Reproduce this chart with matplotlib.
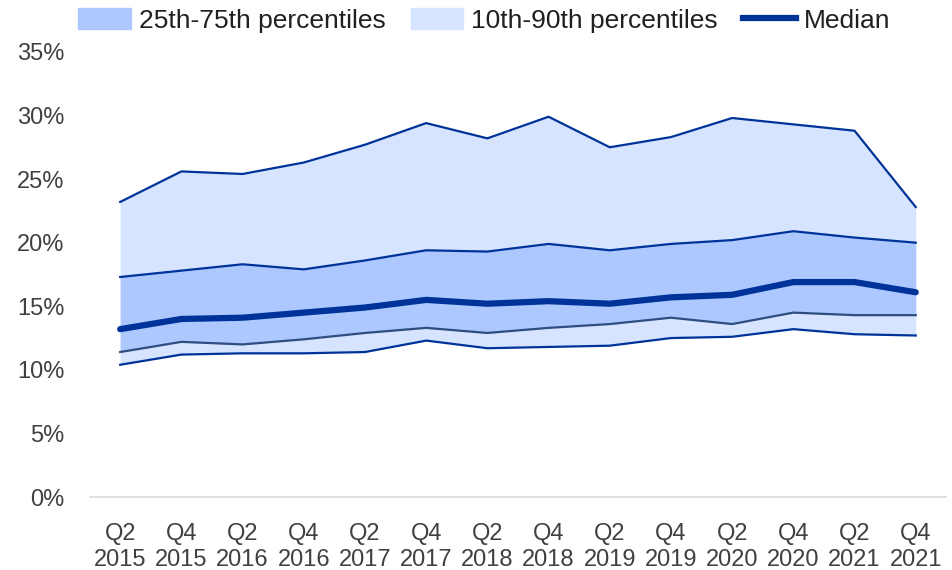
# Percentile bands chart (10-90, 25-75) with median line

import numpy as np
import matplotlib.pyplot as plt
from matplotlib.patches import Patch
from matplotlib.lines import Line2D
from matplotlib.ticker import FuncFormatter

periods = ['Q2\n2015', 'Q4\n2015', 'Q2\n2016', 'Q4\n2016', 'Q2\n2017', 'Q4\n2017', 'Q2\n2018',
           'Q4\n2018', 'Q2\n2019', 'Q4\n2019', 'Q2\n2020', 'Q4\n2020', 'Q2\n2021', 'Q4\n2021']

p90 = [23.2, 25.6, 25.4, 26.3, 27.7, 29.4, 28.2, 29.9, 27.5, 28.3, 29.8, 29.3, 28.8, 22.8]
p75 = [17.3, 17.8, 18.3, 17.9, 18.6, 19.4, 19.3, 19.9, 19.4, 19.9, 20.2, 20.9, 20.4, 20.0]
mediana = [13.2, 14.0, 14.1, 14.5, 14.9, 15.5, 15.2, 15.4, 15.2, 15.7, 15.9, 16.9, 16.9, 16.1]
p25 = [11.4, 12.2, 12.0, 12.4, 12.9, 13.3, 12.9, 13.3, 13.6, 14.1, 13.6, 14.5, 14.3, 14.3]
p10 = [10.4, 11.2, 11.3, 11.3, 11.4, 12.3, 11.7, 11.8, 11.9, 12.5, 12.6, 13.2, 12.8, 12.7]

plt.rcParams['font.family'] = ['Liberation Sans Narrow', 'Liberation Sans', 'DejaVu Sans']

c_light = '#d6e4ff'
c_mid = '#adc8ff'
c_dark = '#003399'
c_grey = '#2f4d7e'

x = np.arange(len(periods))

fig = plt.figure(figsize=(9.53, 5.7), dpi=100)
ax = fig.add_axes([0.094, 0.128, 0.899, 0.781])

ax.fill_between(x, p10, p90, color=c_light, lw=0)
ax.fill_between(x, p25, p75, color=c_mid, lw=0)
ax.plot(x, p90, color=c_dark, lw=1.6)
ax.plot(x, p75, color=c_dark, lw=1.6)
ax.plot(x, p10, color=c_dark, lw=1.6)
ax.plot(x, p25, color=c_grey, lw=1.6)
ax.plot(x, mediana, color=c_dark, lw=4.5, solid_capstyle='round')

ax.set_xlim(-0.5, len(periods) - 0.5)
ax.set_ylim(0, 35)
ax.set_yticks(np.arange(0, 36, 5))
ax.yaxis.set_major_formatter(FuncFormatter(lambda v, p: '%d%%' % v))
ax.set_xticks(x)
ax.set_xticklabels(periods, linespacing=1.2)
ax.tick_params(axis='both', length=0, labelsize=17, colors='#404040')
ax.tick_params(axis='x', pad=19)
ax.tick_params(axis='y', pad=18)
for lado in ['top', 'right', 'left']:
    ax.spines[lado].set_visible(False)
ax.spines['bottom'].set_color('#d9d9d9')
ax.spines['bottom'].set_linewidth(1.2)

handles = [Patch(color=c_mid, label='25th-75th percentiles'),
           Patch(color=c_light, label='10th-90th percentiles'),
           Line2D([], [], color=c_dark, lw=4.5, label='Median')]
fig.legend(handles=handles, loc='upper center', bbox_to_anchor=(0.508, 1.027), ncol=3,
           frameon=False, fontsize=19, handlelength=2.0, handleheight=0.85,
           columnspacing=0.95, handletextpad=0.3, labelcolor='#202020')

plt.savefig('out.png', dpi=100)
